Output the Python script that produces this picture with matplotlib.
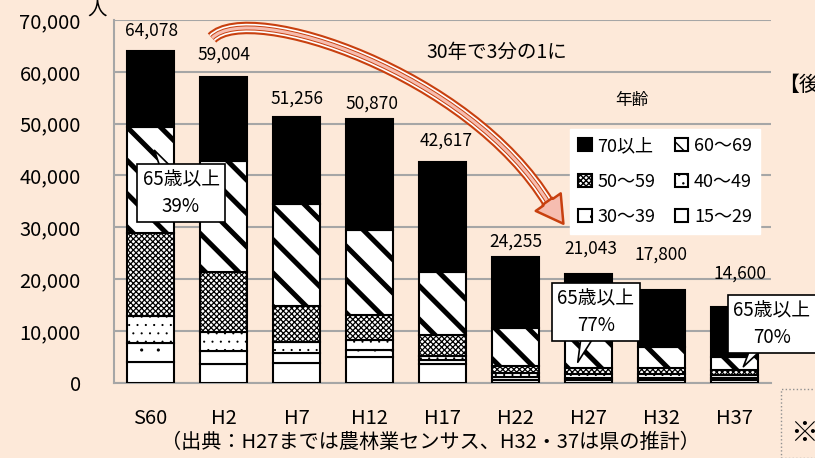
import matplotlib
matplotlib.use("Agg")
import matplotlib.pyplot as plt
import matplotlib.hatch as mhatch
from matplotlib.patches import FancyArrowPatch, Rectangle, PathPatch
from matplotlib.path import Path

plt.rcParams['font.family'] = ['Noto Sans CJK JP', 'DejaVu Sans']
# smaller dots for the '.' hatch, closer to the Excel dot patterns
mhatch.SmallFilledCircles.size = 0.06

# Data
YEARS = ['S60', 'H2', 'H7', 'H12', 'H17', 'H22', 'H27', 'H32', 'H37']
TOTALS = [64078, 59004, 51256, 50870, 42617, 24255, 21043, 17800, 14600]
AGE_15_29 = [3930, 3680, 3800, 4970, 3700, 600, 500, 500, 500]
AGE_30_39 = [3750, 2510, 1940, 1410, 700, 500, 500, 500, 400]
AGE_40_49 = [5280, 3610, 2190, 1800, 800, 700, 700, 600, 600]
AGE_50_59 = [16000, 11610, 6960, 4970, 4000, 1500, 1100, 1200, 900]
AGE_60_69 = [20310, 21390, 19670, 16310, 12100, 7250, 5700, 4030, 2600]
AGE_70_UP = [14808, 16204, 16696, 21410, 21317, 13705, 12543, 10970, 9600]
SERIES = [
    ('15～29', AGE_15_29, '', 1.0),
    ('30～39', AGE_30_39, '.', 0.8),
    ('40～49', AGE_40_49, '..', 0.8),
    ('50～59', AGE_50_59, 'xxxxxx', 0.9),
    ('60～69', AGE_60_69, '\\', 3.6),
    ('70以上', AGE_70_UP, '', 1.0),
]
# label offsets (pt) - labels were placed by hand in the original
LABEL_DY = [14.4, 16.3, 13.5, 10.8, 15.3, 11.3, 18.2, 25.7, 24.0]
LABEL_DX = [1, 0, 0, 1.5, 3, 0, 2, 0, 4]

BG = '#FDE9D9'
RED = '#C8400F'
PINK = '#F6BDB0'

fig = plt.figure(figsize=(8.15, 4.58), dpi=100, facecolor=BG)
ax = fig.add_axes([114 / 815, 1 - 382.7 / 458, 657 / 815, 362.7 / 458], facecolor=BG)

x = list(range(len(YEARS)))
bottom = [0] * len(YEARS)
handles = {}
for name, vals, hatch, hlw in SERIES:
    color = 'black' if name == '70以上' else 'white'
    plt.rcParams['hatch.linewidth'] = hlw
    bars = ax.bar(x, vals, width=0.65, bottom=bottom, color=color,
                  edgecolor='black', linewidth=1.5, hatch=hatch, zorder=3)
    for p in bars:
        if hasattr(p, 'set_hatch_linewidth'):
            p.set_hatch_linewidth(hlw)
    handles[name] = bars
    bottom = [b + v for b, v in zip(bottom, vals)]

# total labels
for i, t in enumerate(TOTALS):
    ax.annotate(f'{t:,}', (i, t), xytext=(LABEL_DX[i], LABEL_DY[i]),
                textcoords='offset points', ha='center', va='center',
                fontsize=12.5, zorder=5)

ax.set_xlim(-0.5, len(YEARS) - 0.5)
ax.set_ylim(0, 70000)
ax.set_yticks(range(0, 70001, 10000))
ax.set_yticklabels([f'{v:,}' for v in range(0, 70001, 10000)], fontsize=14.5)
ax.set_xticks(x)
ax.set_xticklabels(YEARS, fontsize=14.5)
ax.tick_params(axis='y', length=0, pad=24)
ax.tick_params(axis='x', length=0, pad=18)
ax.grid(axis='y', color='#A6A6A6', linewidth=1.5, zorder=0)
ax.set_axisbelow(True)
for s in ['top', 'right']:
    ax.spines[s].set_visible(False)
for s in ['left', 'bottom']:
    ax.spines[s].set_color('#A6A6A6')
    ax.spines[s].set_linewidth(1.5)

# legend (row order like the original)
order = ['70以上', '50～59', '30～39', '60～69', '40～49', '15～29']
leg = ax.legend([handles[k] for k in order], order, ncol=2,
                loc='upper left', bbox_to_anchor=(570 / 815, 1 - 129 / 458),
                bbox_transform=fig.transFigure, borderaxespad=0, fontsize=13,
                handlelength=0.75, handleheight=0.75, handletextpad=0.3,
                columnspacing=1.1, labelspacing=0.97, borderpad=0.45,
                frameon=True, fancybox=False, edgecolor='white', framealpha=1)
leg.set_zorder(6)
fig.text(632 / 815, 1 - 100 / 458, '年齢', ha='center', va='center', fontsize=12)

# texts
fig.text(97 / 815, 1 - 10 / 458, '人', ha='center', va='center', fontsize=14)
fig.text(497 / 815, 1 - 52 / 458, '30年で3分の1に', ha='center', va='center', fontsize=14)
fig.text(430 / 815, 1 - 442 / 458, '（出典：H27までは農林業センサス、H32・37は県の推計）',
         ha='center', va='center', fontsize=14.5)
fig.text(778 / 815, 1 - 85 / 458, '【後', ha='left', va='center', fontsize=15)
fig.text(790 / 815, 1 - 434 / 458, '※', ha='left', va='center', fontsize=20)
fig.patches.append(Rectangle((781 / 815, 0), 0.2, 1 - 389 / 458, transform=fig.transFigure,
                             fill=False, edgecolor='#909090', linestyle=':', linewidth=1))

# red curved arrow (figure pixels, y up): band + head
band = Path([(212, 420), (250, 458), (470, 385), (549, 254)],
            [Path.MOVETO, Path.CURVE4, Path.CURVE4, Path.CURVE4])
fig.patches.append(PathPatch(band, transform=None, fill=False, edgecolor=RED,
                             linewidth=9, capstyle='butt', zorder=7))
fig.patches.append(PathPatch(band, transform=None, fill=False, edgecolor='white',
                             linewidth=6, capstyle='butt', zorder=7))
fig.patches.append(PathPatch(band, transform=None, fill=False, edgecolor=RED,
                             linewidth=3.6, capstyle='butt', zorder=7))
fig.patches.append(PathPatch(band, transform=None, fill=False, edgecolor=PINK,
                             linewidth=2.2, capstyle='butt', zorder=7))
head = FancyArrowPatch((546, 259), (565, 232), transform=None,
                       arrowstyle='simple,head_width=2.2,head_length=1.9,tail_width=0.85',
                       mutation_scale=10, facecolor=PINK, edgecolor=RED,
                       linewidth=1.8, zorder=7)
fig.patches.append(head)

# 65歳以上 callouts
def callout(txt, tip, box_xy):
    ax.annotate(txt, xy=tip, xytext=box_xy, textcoords='figure pixels',
                ha='center', va='center', fontsize=13.5, linespacing=1.35, zorder=8,
                bbox=dict(boxstyle='square,pad=0.3', fc='white', ec='black', lw=1.2),
                arrowprops=dict(arrowstyle='wedge,tail_width=1.2,shrink_factor=0.5',
                                fc='white', ec='black', lw=1.2, patchA=None))

callout('65歳以上\n39%', (0.034, 45300), (181, 458 - 193))
callout('65歳以上\n77%', (5.84, 3440), (596, 458 - 312))
callout('65歳以上\n70%', (8.10, 2640), (772, 458 - 324))

fig.savefig('out.png', dpi=100, facecolor=BG)
